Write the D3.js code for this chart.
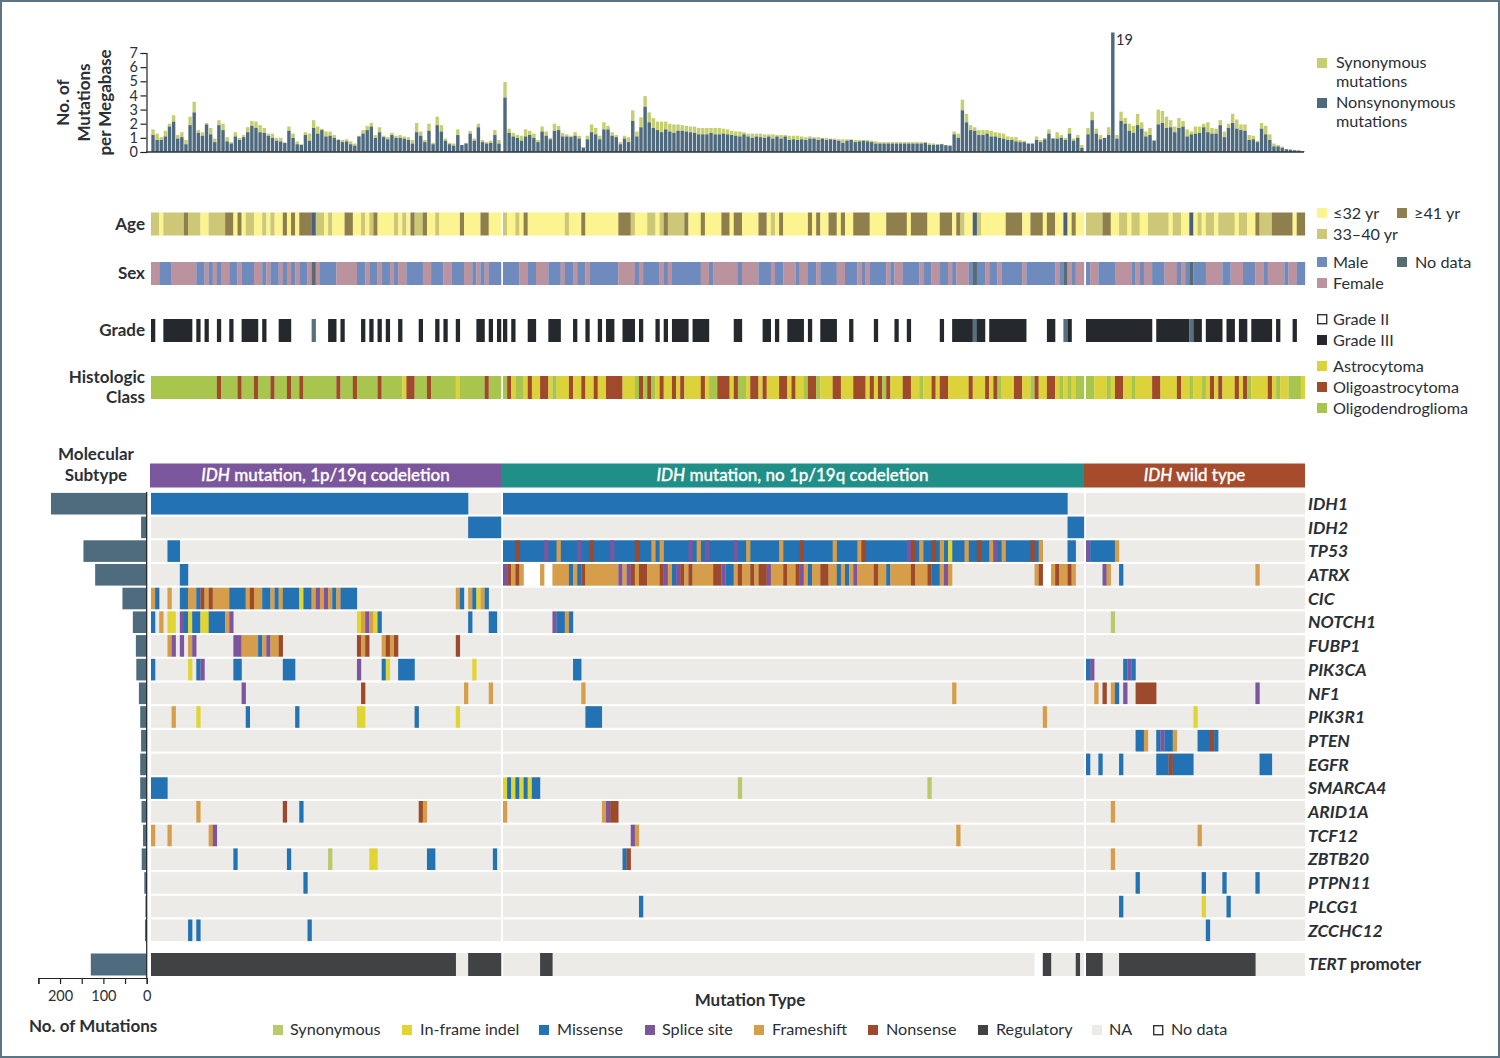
<!DOCTYPE html>
<html><head><meta charset="utf-8">
<script src="https://cdn.jsdelivr.net/npm/d3@7"></script>
<style>html,body{margin:0;padding:0;background:#fff}svg{display:block}text{font-family:Lato,"Open Sans",sans-serif;fill:#2b2f36}</style>
</head><body><svg id="c" width="1500" height="1058"></svg>
<script>
// ---- samples per molecular subtype
const subtypeNames=["mutation, 1p/19q codeletion","mutation, no 1p/19q codeletion","wild type"];
const subtypeCounts=[85,141,53];
// ---- mutations per megabase [nonsynonymous,total]
const burdenG1=[[1.2,1.6],[.85,1.3],[.85,1.05],[1.1,1.5],[1.8,2],[2.15,2.6],[.95,1.2],[1.05,1.4],[.55,.85],[1.9,2.5],[2.8,3.55],[1.35,1.55],[1.15,1.4],[1.95,2.05],[1.25,1.7],[.7,.95],[1.9,2.25],[1.55,2],[.75,1.05],[.6,.7],[1.1,1.4],[.85,1],[1.05,1.2],[1.4,1.75],[1.85,2.2],[1.7,2.15],[1.4,1.9],[1.35,1.7],[1.15,1.3],[1,1.3],[.8,1],[.75,1],[.65,.65],[1.5,1.8],[1,1.3],[.55,.75],[.5,.55],[1.2,1.4],[.8,1.3],[1.7,2.25],[1.3,1.8],[1.55,1.65],[1.1,1.45],[1.15,1.45],[1,1.2],[.85,.9],[.7,.85],[.75,.9],[.55,.75],[.45,.6],[1.1,1.15],[1.3,1.55],[1.55,1.85],[1.8,2.05],[1,1.2],[1.4,1.75],[1.05,1.15],[.9,1.05],[1.2,1.35],[1,1.15],[1,1.2],[.95,1.1],[.85,1.05],[.6,.85],[1.4,2.05],[1.15,1.45],[.7,.85],[1.5,2],[.55,.65],[1.9,2.5],[1.45,1.9],[.8,.95],[.55,.65],[.45,.6],[1.2,1.6],[.5,.5],[.6,.65],[1.3,1.5],[.8,.95],[1.75,2],[.7,.85],[.6,.7],[.65,.8],[1.2,1.55],[.6,.85]];
const burdenG2=[[3.85,4.95],[1.35,1.65],[1.1,1.35],[1,1.2],[.8,1.15],[1.1,1.6],[1.2,1.5],[1,1.3],[.7,.85],[1.45,1.8],[1.15,1.45],[.9,1],[1.5,2],[1.55,1.85],[1.1,1.35],[1.1,1.25],[1.05,1.15],[1.15,1.4],[.95,1.15],[.3,.35],[.9,1.15],[1.4,1.95],[1.25,1.7],[.9,1.15],[1.6,2.1],[1.6,1.85],[1.15,1.4],[1.05,1.2],[.55,.7],[.95,1.15],[.7,1.05],[2.2,2.95],[1.1,1.45],[1.75,2.45],[3.2,3.95],[2.1,2.8],[1.7,2.4],[1.55,2.15],[1.4,2.15],[1.6,2.15],[1.45,2],[1.35,1.95],[1.5,1.95],[1.5,1.9],[1.45,1.85],[1.4,1.8],[1.35,1.8],[1.25,1.7],[1.25,1.7],[1.25,1.7],[1.35,1.7],[1.25,1.7],[1.25,1.7],[1.3,1.65],[1.25,1.6],[1.2,1.5],[1.15,1.45],[1.1,1.45],[1.25,1.4],[1.1,1.3],[1,1.3],[1.1,1.3],[1.05,1.3],[1,1.25],[1.1,1.25],[.95,1.25],[1.1,1.2],[.95,1.2],[1.1,1.2],[.85,1.15],[.9,1.15],[.85,1.15],[.9,1.1],[.85,1.05],[.95,1.1],[.95,1.05],[.85,1.05],[.95,1],[.85,1],[.9,.95],[.85,.95],[.8,.9],[.65,.9],[.8,.9],[.85,.9],[.7,.85],[.75,.85],[.8,.85],[.75,.85],[.7,.8],[.6,.75],[.6,.7],[.6,.7],[.6,.7],[.6,.7],[.6,.7],[.6,.7],[.6,.7],[.6,.7],[.6,.7],[.6,.7],[.6,.7],[.65,.7],[.5,.62],[.5,.6],[.52,.55],[.55,.58],[.48,.5],[.45,.47],[1.25,1.45],[1,1.3],[2.95,3.7],[2.1,2.7],[1.55,1.9],[1.5,1.75],[1.2,1.55],[1.2,1.55],[1.3,1.55],[1.1,1.5],[1.1,1.4],[1,1.35],[.95,1.3],[.85,1.1],[.85,1.05],[.75,1.05],[.7,.85],[.7,.8],[.6,.6],[.6,.6],[.85,1.1],[.7,.85],[.9,1],[1.3,1.6],[.95,1],[.95,1.4],[1,1.2],[.85,1],[1.3,1.7],[.8,.95],[1,1.2],[.3,.5]];
const burdenG3=[[1.25,1.7],[2.25,2.85],[1.3,1.65],[.9,1.2],[1,1],[1.2,1.75],[19,19],[.95,1.2],[2.2,2.85],[2,2.4],[1.5,2],[1.35,1.85],[1.9,2.7],[1.65,2.1],[1.1,1.45],[1.2,1.7],[.8,.85],[1.95,3],[2.05,2.9],[1.7,2.5],[1.75,2.25],[1.4,1.8],[1.7,2.4],[1.8,2.2],[1.1,1.6],[1.25,1.45],[1.3,1.8],[1.35,1.8],[1.75,2],[1.4,2.1],[1.3,1.7],[1.3,1.65],[1.9,2.25],[1.05,1.45],[1.7,2],[2.05,2.7],[1.65,2.3],[1.55,1.95],[1.5,1.95],[.85,1.2],[.9,1.15],[.7,.8],[1.65,2.05],[1.25,1.85],[.85,1.25],[.4,.6],[.4,.5],[.3,.38],[.2,.2],[.15,.2],[.12,.15],[.1,.12],[.05,.06]];
const burdenTicks=[0,1,2,3,4,5,6,7];
// ---- clinical tracks, run lengths per subtype
const ageRuns=["M2 Y1 M5 O1 M3 Y2 M4 O2 Y1 O1 Y1 M2 Y2 M1 Y1 M1 Y2 O1 Y1 O1 Y1 O3 N1 M2 Y1 M1 Y3 O2 Y2 M1 Y1 M1 O1 Y4 M1 Y1 M1 Y1 O1 M2 O1 Y2 M1 Y5 O1 Y4 O2 Y3",
"M1 Y2 M1 Y1 O1 Y9 M1 Y3 O1 Y8 O3 M1 Y3 M2 Y1 M1 O1 M4 O1 Y3 O1 Y4 O2 Y1 O2 Y4 O2 Y1 M1 Y1 O1 Y6 O1 Y1 O1 Y2 O2 Y1 O1 Y2 O4 Y4 O5 Y1 O4 Y3 O3 Y1 O1 M1 Y2 N1 M1 Y6 O4 Y2 O3 Y1 O2 Y2 N1 Y1 O1 Y2",
"M4 O2 Y2 M2 Y1 M2 Y2 M5 Y1 M2 Y2 N1 Y1 M1 Y1 M2 Y1 M4 Y1 M2 Y2 O1 M3 O5 Y1 O2"];
const sexRuns=["F2 L3 F6 L2 F1 L1 F1 L1 F2 L2 F1 L3 F2 L1 F1 L2 F1 L1 F1 L1 F1 L2 F1 N1 F1 L4 F5 L2 F1 L2 F1 L2 F1 L1 F2 L4 F2 L3 F2 L3 F2 L1 F1 L1 F1 L3",
"L4 F2 L2 F3 L3 F1 L2 F1 L2 F1 L7 F4 L1 F1 L4 F1 L1 F1 L7 F2 L1 F6 L1 F4 L3 F1 L2 F3 L1 F2 L2 F1 L4 F2 L3 F1 L1 F1 L4 F1 L1 F2 L4 F1 L2 F2 L2 F1 L1 F3 L1 N1 L2 F1 L2 F1 L5 F1 L7 F1 L1 N1 F1 L1 F2",
"L1 F2 L4 F4 L1 F1 L1 F2 L3 F3 L1 F1 L1 N1 L3 F4 L2 F3 L3 F2 L1 F4 L1 F2 L2"];
const gradeRuns=["G1 _2 G7 _1 G1 _1 G1 _2 G1 _2 G1 _2 G4 _1 G1 _3 G3 _5 N1 _3 G2 _1 G1 _4 G1 _1 G1 _1 G1 _1 G1 _2 G1 _4 G1 _3 G1 _1 G1 _2 G1 _4 G2 _1 G1 _1 G1",
"G1 _1 G1 _3 G2 _3 G3 _3 G1 _2 G1 _2 G1 _1 G2 _2 G3 _1 G1 _3 G1 _1 G1 _1 G4 _1 G4 _6 G2 _5 G2 _1 G1 _2 G4 _1 G1 _2 G4 _3 G1 _5 G1 _4 G1 _2 G1 _7 G1 _2 G5 N1 G2 _1 G9 _5 G2 _2 N1 G1 _3",
"G16 _1 G8 N1 G2 _1 G4 _1 G2 _1 G2 _1 G5 _1 G1 _3 G1 _2"];
const histologyRuns=["D16 X1 D4 X1 D3 X1 D3 X1 D3 X1 D2 X1 D8 X1 D3 X1 D5 X1 D5 A1 X2 D3 X1 D6 A1 D6 X1 D3",
"D1 X1 A1 D2 A1 X1 A2 X2 A1 D1 A3 X1 A2 X1 A2 X1 A2 X4 A3 D1 X1 D1 X1 D1 A1 X1 A2 X1 A1 X1 A4 X1 A1 D2 X3 A1 X1 D2 A1 X2 A1 X1 A3 X2 A1 X1 A2 D1 X2 D1 A3 X2 A3 X3 A1 X1 A1 X1 D1 X1 A3 X2 A2 D1 A2 X1 A1 X2 A5 X1 A3 X1 A1 X1 D1 A3 X2 A2 D1 X1 A2 X2 A1 D1 A1 D1 A1 D2",
"D2 A3 D1 A1 X2 A2 D1 A4 X2 A4 X1 A2 D1 A2 D1 A1 X1 A1 X1 A3 X1 A1 X1 D1 A4 X1 A1 D1 A2 D3 A1"];
// ---- genes and totals
const genes=["IDH1","IDH2","TP53","ATRX","CIC","NOTCH1","FUBP1","PIK3CA","NF1","PIK3R1","PTEN","EGFR","SMARCA4","ARID1A","TCF12","ZBTB20","PTPN11","PLCG1","ZCCHC12"];
const geneTotals=[221,13,146,119,56,32,25,24,18,15,13,15,15,12,8.5,11.5,5.5,3,4];
const tertTotal=129;
const mutationTicks=[0,50,100,150,200,250];
// ---- mutations: type + sample index (or range), one string per gene
const mutG1=["M0-76","M77-84","M4-6","M7-8",
"F0 M1 F4 M7-8 F9-10 M11 X12 F13 X14 F15-18 M19-22 F23 X24 F25-26 M27-28 F29 M30 F31 M32-35 A36 M37-38 F39 S40 F41 S42 F43 M44 F45 M46-49 F74 M75 F77 M78 A79 F80 M81",
"M0 F2 A4-5 S7 M8 A9 M10-11 A12-13 M14-17 F18 S19 A50 F51 S52 F53 A54 M55 M77 M82-83",
"F4 S5 S7 F9 S10 S20-21 F22-25 M26 F27 S28 F29-30 X31 X50 F51 X52 F56 X57 F58 X59 X74",
"M0 A9 M11 S12 M20-21 M32-34 S50 M56 A57 M60-63 A78",
"S22 X51 F76 F82",
"F5 A11 M23 M35 A50-51 M64 A74",
"","",
"M0-3",
"F11 X32 M36 X65 F66",
"F0 F4 F14 S15",
"M20 M33 Y43 A53-54 M67-68 M83",
"M37","",
"M9 M11 M38"];
const mutG2=["M0-136","M137-140",
"M0-130 X3 S10 F13 S18 X21 S26 X32 F36 F38 S45 F47 S49 S56 F59 F67 X72 F80 F86 X87 S98 X99 F101 X104 F106 A108 F112 X115 F118 S119 F121 X128 F130 M137-138",
"S0 X1 F2 X3 F4 F9 F12-15 M16 F17 M18 X19 F20-27 S28 F29 S30 X31 F32 X33-34 F35-37 X38 S39 F40 M41 S42 X43 F44 X45 F46-50 X51-52 S53 M54-55 F56 X57 F58-59 X60 F61 X62-63 S64 F65-67 X68 F69-70 X71 S72 F73 M74 F75-76 X77-78 F79-80 M81 F82 M83 F84 S85 F86-89 X90 F91-92 M93 F94-98 X99 F100-102 X103 M104-105 F106 S107 F108 F129 X130 F133 X134 F135-136 X137 F138",
"","S12 M13-14 F15 M16","","M17-18","F19 F109","M20-23 F131","","",
"A0 M1 A2 M3 A4 M5 A6 M7-8 Y57 Y103",
"F0 F24 S25 X26-27",
"S31 F32 F110",
"M29 X30","","M33",""];
const mutG3=["","",
"S0 M1-6 F7",
"S4 F5 M8 F41",
"","Y6","",
"M0 S1 M9 S10 M11",
"F2 X4 F6 M7 S9 X12-16 S41",
"A26",
"M12-13 F14 M17 S18 M19-20 F21 M27-29 X30 M31",
"M0 M3 M8 M17-19 X20 M21-25 M42-44",
"",
"F6","F27","F6",
"M12 M28 M33 M41",
"M8 A28 M34",
"M29"];
const tertG1="R0-73 R77-84", tertG2="R9-11 W129-130 R131-132 R139", tertG3="R0-3 R8-40";
const noDataG2ATRX="W5-8 W10-11 W131-132";
// ---- legends
const mutationLegend=[["Y","Synonymous"],["A","In-frame indel"],["M","Missense"],["S","Splice site"],["F","Frameshift"],["X","Nonsense"],["R","Regulatory"],["NA","NA"],["W","No data"]];

const color={Y:"#b9c96b",A:"#e0d533",M:"#2272b4",S:"#7b569f",F:"#d69e4a",X:"#9c4a2b",R:"#404244",NA:"#ecebe7",W:"#ffffff"};
const ageColor={Y:"#fbf490",M:"#cdc877",O:"#8f7f4c",N:"#4a6080"};
const sexColor={L:"#6f8bbd",F:"#bb939f",N:"#566c72"};
const gradeColor={G:"#25282c",N:"#56707f"};
const histColor={A:"#dcd33b",X:"#a14a2b",D:"#a8c64e"};
const subtypeColor=["#7b569c","#1f8f88","#a64c2c"];
const svg=d3.select("#c");
svg.append("rect").attr("x",1).attr("y",1).attr("width",1498).attr("height",1056).attr("fill","#fff").attr("stroke","#5d7482").attr("stroke-width",2);

const groupRange=[[151,501.1],[503,1084],[1086,1305]];
const bands=subtypeCounts.map((n,i)=>d3.scaleBand().domain(d3.range(n)).range(groupRange[i]));

function txt(x,y,s,o={}){const t=svg.append("text").attr("x",x).attr("y",y).text(s)
 .style("font-size",(o.size||16.2)+"px").style("font-weight",o.weight||400).attr("text-anchor",o.anchor||"start");
 if(o.italic)t.style("font-style","italic"); if(o.fill)t.style("fill",o.fill); return t;}
function swatch(x,y,c,stroke){svg.append("rect").attr("x",x).attr("y",y).attr("width",stroke?9:10).attr("height",stroke?9:10).attr("fill",c).attr("stroke",stroke||"none").attr("stroke-width",stroke?1.4:0);}

// ---- burden bars
const yB=d3.scaleLinear().domain([0,7]).range([152,53]);
const burdenCap=8.45;
[burdenG1,burdenG2,burdenG3].forEach((arr,g)=>{
 const b=bands[g];
 const gg=svg.append("g");
 gg.selectAll("rect.s").data(arr).join("rect").attr("x",(d,i)=>b(i)+.3).attr("width",b.bandwidth()-.7)
  .attr("y",d=>yB(Math.min(d[1],burdenCap))).attr("height",d=>yB(Math.min(d[0],burdenCap))-yB(Math.min(d[1],burdenCap))).attr("fill","#c6cf70");
 gg.selectAll("rect.n").data(arr).join("rect").attr("x",(d,i)=>b(i)+.3).attr("width",b.bandwidth()-.7)
  .attr("y",d=>yB(Math.min(d[0],burdenCap))).attr("height",d=>yB(0)-yB(Math.min(d[0],burdenCap))).attr("fill","#4f6a7e");
});
const ax=svg.append("g").attr("transform","translate(146.5,0)").call(d3.axisLeft(yB).tickValues(burdenTicks).tickSize(6).tickPadding(2.5).tickFormat(d3.format("d")));
ax.selectAll("path,line").attr("stroke","#222").attr("stroke-width",1.2);
ax.selectAll("text").style("font-size","14.5px").style("font-family","Lato");
svg.append("line").attr("x1",146).attr("x2",1304).attr("y1",yB(0)).attr("y2",yB(0)).attr("stroke","#2b3338").attr("stroke-width",1.4);
txt(1116,45,"19",{size:14.5});
[["No. of",69],["Mutations",90],["per Megabase",111]].forEach(([s,x])=>{
 svg.append("text").attr("transform",`translate(${x},102.5) rotate(-90)`).attr("text-anchor","middle").text(s).style("font-size","17px").style("font-weight",700);
});

// ---- clinical tracks
function parseRuns(s){return s.split(" ").map(t=>[t[0],+t.slice(1)]);}
function drawTrack(runs,colors,top,h){
 runs.forEach((r,g)=>{let i=0;const b=bands[g];
  const cells=parseRuns(r).map(([k,n])=>{const c={k,i,n};i+=n;return c;}).filter(c=>colors[c.k]);
  svg.append("g").selectAll("rect").data(cells).join("rect").attr("x",c=>b(c.i)).attr("width",c=>b.step()*c.n+.15)
   .attr("y",top).attr("height",h).attr("fill",c=>colors[c.k]);
 });
}
drawTrack(ageRuns,ageColor,212.5,23);
drawTrack(sexRuns,sexColor,262,23);
drawTrack(gradeRuns,gradeColor,319,23);
drawTrack(histologyRuns,histColor,376,23);
const lab={size:17,weight:700,anchor:"end"};
txt(145,230,"Age",lab);txt(145,279,"Sex",lab);txt(145,336,"Grade",lab);txt(145,383,"Histologic",lab);txt(145,403,"Class",lab);

// ---- subtype header
subtypeNames.forEach((n,i)=>{
 const x0=i==0?150:groupRange[i][0]-2, x1=i==2?1305:groupRange[i+1][0]-2;
 svg.append("rect").attr("x",x0).attr("y",463.5).attr("width",x1-x0).attr("height",24).attr("fill",subtypeColor[i]);
 const t=svg.append("text").attr("x",(x0+x1)/2).attr("y",481).attr("text-anchor","middle").style("font-size","17px").style("font-weight",500).style("stroke","#fff").style("stroke-width",.3);
 t.append("tspan").text("IDH").style("font-style","italic").style("fill","#fff");
 t.append("tspan").text(" "+n).style("fill","#fff");
});
txt(96,460,"Molecular",{size:17,weight:700,anchor:"middle"});
txt(96,481,"Subtype",{size:17,weight:700,anchor:"middle"});

// ---- oncoprint
const rowY=d3.scaleLinear().domain([0,1]).range([492.9,516.6]);
const rowH=21.6, tertTop=953, tertH=23;
function parseEvents(s){return s?s.split(" ").map(t=>{const m=t.match(/^([A-Z])(\d+)(?:-(\d+))?$/);const a=+m[2],z=m[3]?+m[3]:a;return {k:m[1],i:a,n:z-a+1};}):[];}
function drawRow(top,h,evs,b){
 svg.append("rect").attr("x",b.range()[0]).attr("y",top).attr("width",b.range()[1]-b.range()[0]).attr("height",h).attr("fill",color.NA);
 svg.append("g").selectAll("rect").data(evs).join("rect").attr("x",e=>b(e.i)).attr("width",e=>b.step()*e.n+.15)
  .attr("y",top).attr("height",h).attr("fill",e=>color[e.k]);
}
[mutG1,mutG2,mutG3].forEach((rows,g)=>{
 rows.forEach((s,r)=>{
  let ev=parseEvents(s);
  if(g==1&&r==3) ev=parseEvents(noDataG2ATRX).concat(ev);
  drawRow(rowY(r),rowH,ev,bands[g]);
 });
});
[tertG1,tertG2,tertG3].forEach((s,g)=>drawRow(tertTop,tertH,parseEvents(s),bands[g]));
genes.forEach((n,r)=>txt(1308,rowY(r)+17,n,{size:17.5,weight:700,italic:true}));
const tl=svg.append("text").attr("x",1308).attr("y",970).style("font-size","17px").style("font-weight",700);
tl.append("tspan").text("TERT").style("font-style","italic");tl.append("tspan").text(" promoter");

// ---- left bars and axis
const xL=d3.scaleLinear().domain([0,250]).range([146.7,38.4]);
svg.append("g").selectAll("rect").data(geneTotals).join("rect").attr("x",d=>xL(d)).attr("width",d=>xL(0)-xL(d))
 .attr("y",(d,i)=>rowY(i)).attr("height",rowH).attr("fill","#4e6c7e");
svg.append("rect").attr("x",xL(tertTotal)).attr("width",xL(0)-xL(tertTotal)).attr("y",tertTop+.5).attr("height",22).attr("fill","#4e6c7e");
svg.append("line").attr("x1",146.7).attr("x2",146.7).attr("y1",492).attr("y2",978).attr("stroke","#222").attr("stroke-width",1.2);
const axL=svg.append("g").attr("transform","translate(0,978)").call(d3.axisBottom(xL).tickValues(mutationTicks).tickSize(6).tickPadding(7).tickFormat(d=>d%100==0&&d<250?d:""));
axL.selectAll("path,line").attr("stroke","#222").attr("stroke-width",1.2);
axL.selectAll("text").style("font-size","14.5px").style("font-family","Lato");
txt(29,1032,"No. of Mutations",{size:17,weight:700});
txt(750,1006,"Mutation Type",{size:17,weight:700,anchor:"middle"});

// ---- bottom legend
const legX=[273,402,539,645,754,868,978,1092,1153], legT=[290,420,557,662,772,886,996,1109,1171];
mutationLegend.forEach(([k,s],i)=>{ if(k=="W")swatch(legX[i]+.7,1025.7,"#fff","#333"); else swatch(legX[i],1025,color[k]); txt(legT[i],1035,s);});

// ---- right legends
swatch(1317,58,"#c6cf70");txt(1336,68,"Synonymous");txt(1336,87,"mutations");
swatch(1317,98,"#4f6a7e");txt(1336,108,"Nonsynonymous");txt(1336,127,"mutations");
swatch(1317,208,ageColor.Y);txt(1333,219,"≤32 yr");swatch(1397,208,ageColor.O);txt(1414,219,"≥41 yr");
swatch(1317,229,ageColor.M);txt(1333,240,"33–40 yr");
swatch(1317,257,sexColor.L);txt(1333,268,"Male");swatch(1397,257,sexColor.N);txt(1415,268,"No data");
swatch(1317,278,sexColor.F);txt(1333,289,"Female");
swatch(1317.7,314.7,"#fff","#333");txt(1333,325,"Grade II");
swatch(1317,335,gradeColor.G);txt(1333,346,"Grade III");
swatch(1317,361,histColor.A);txt(1333,372,"Astrocytoma");
swatch(1317,382,histColor.X);txt(1333,393,"Oligoastrocytoma");
swatch(1317,403,histColor.D);txt(1333,414,"Oligodendroglioma");
</script></body></html>
